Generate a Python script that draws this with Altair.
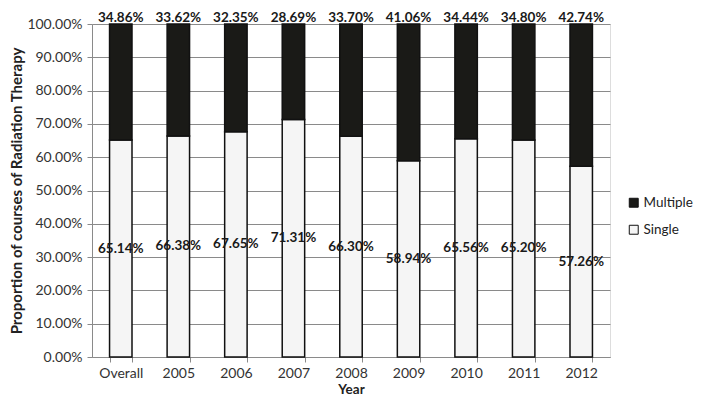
import altair as alt
import pandas as pd

categories = ["Overall", "2005", "2006", "2007", "2008", "2009", "2010", "2011", "2012"]
multiple = [34.86, 33.62, 32.35, 28.69, 33.70, 41.06, 34.44, 34.80, 42.74]
single = [65.14, 66.38, 67.65, 71.31, 66.30, 58.94, 65.56, 65.20, 57.26]
series = ["Multiple", "Single"]
y_ticks = [0.0, 0.1, 0.2, 0.3, 0.4, 0.5, 0.6, 0.7, 0.8, 0.9, 1.0]

rows = []
for c, m, s in zip(categories, multiple, single):
    rows.append({"Year": c, "Type": "Single", "value": s / 100, "ord": 0,
                 "label": f"{s:.2f}%", "ypos": s / 200})
    rows.append({"Year": c, "Type": "Multiple", "value": m / 100, "ord": 1,
                 "label": f"{m:.2f}%", "ypos": 1.0})
df = pd.DataFrame(rows)

FONT = "Lato"
x_axis = alt.Axis(labelAngle=0, tickBand="extent", labelFontSize=14,
                  labelColor="#333333", labelFont=FONT, labelPadding=4,
                  titleFont=FONT, titleFontSize=13.5, titleFontWeight="bold",
                  titleColor="#222222", titlePadding=2,
                  domainColor="#8a8a8a", tickColor="#8a8a8a", tickSize=5,
                  grid=False)
x_scale = alt.Scale(paddingInner=0.61, paddingOuter=0.305)
y_axis = alt.Axis(values=y_ticks, format=".2%", labelFontSize=14,
                  labelColor="#333333", labelFont=FONT, labelPadding=5,
                  labelOverlap=False,
                  titleFont=FONT, titleFontSize=15, titleFontWeight="bold",
                  titleColor="#222222", titlePadding=2,
                  gridColor="#8a8a8a", gridWidth=1,
                  domainColor="#8a8a8a", tickColor="#8a8a8a", tickSize=5)
y_scale = alt.Scale(domain=[0, 1], nice=False)
Y_TITLE = "Proportion of courses of Radiation Therapy"


def xe():
    return alt.X("Year:N", sort=categories, title="Year", scale=x_scale, axis=x_axis)


bars = alt.Chart(df).mark_bar(stroke="#111111", strokeWidth=1.5).encode(
    x=xe(),
    y=alt.Y("value:Q", stack="zero", scale=y_scale, title=Y_TITLE, axis=y_axis),
    color=alt.Color("Type:N", sort=series,
                    scale=alt.Scale(domain=series, range=["#1a1a17", "#f5f5f5"]),
                    legend=alt.Legend(title=None, orient="none", legendX=535, legendY=172,
                                      symbolType="square", symbolSize=80,
                                      symbolStrokeColor="#111111", symbolStrokeWidth=1,
                                      labelFont=FONT, labelFontSize=13.5, labelColor="#222222",
                                      rowPadding=12, labelOffset=3)),
    order=alt.Order("ord:Q"),
)

labels = alt.Chart(df).mark_text(font=FONT, fontSize=13.5, fontWeight="bold",
                                 color="#1a1a1a", baseline="alphabetic", dy=-2).encode(
    x=xe(),
    y=alt.Y("ypos:Q", scale=y_scale, title=Y_TITLE, axis=y_axis),
    text="label:N",
).transform_filter(alt.datum.Type == "Multiple")

labels_s = alt.Chart(df).mark_text(font=FONT, fontSize=13.5, fontWeight="bold",
                                   color="#1a1a1a", baseline="middle").encode(
    x=xe(),
    y=alt.Y("ypos:Q", scale=y_scale, title=Y_TITLE, axis=y_axis),
    text="label:N",
).transform_filter(alt.datum.Type == "Single")

chart = alt.layer(bars, labels, labels_s).properties(
    width=518, height=333,
    autosize=alt.AutoSizeParams(type="none"),
    padding={"left": 84, "top": 16, "right": 85, "bottom": 40},
).configure_view(strokeWidth=0).configure(background="white")

chart.save("out.html", embed_options={"renderer": "svg", "actions": False})
